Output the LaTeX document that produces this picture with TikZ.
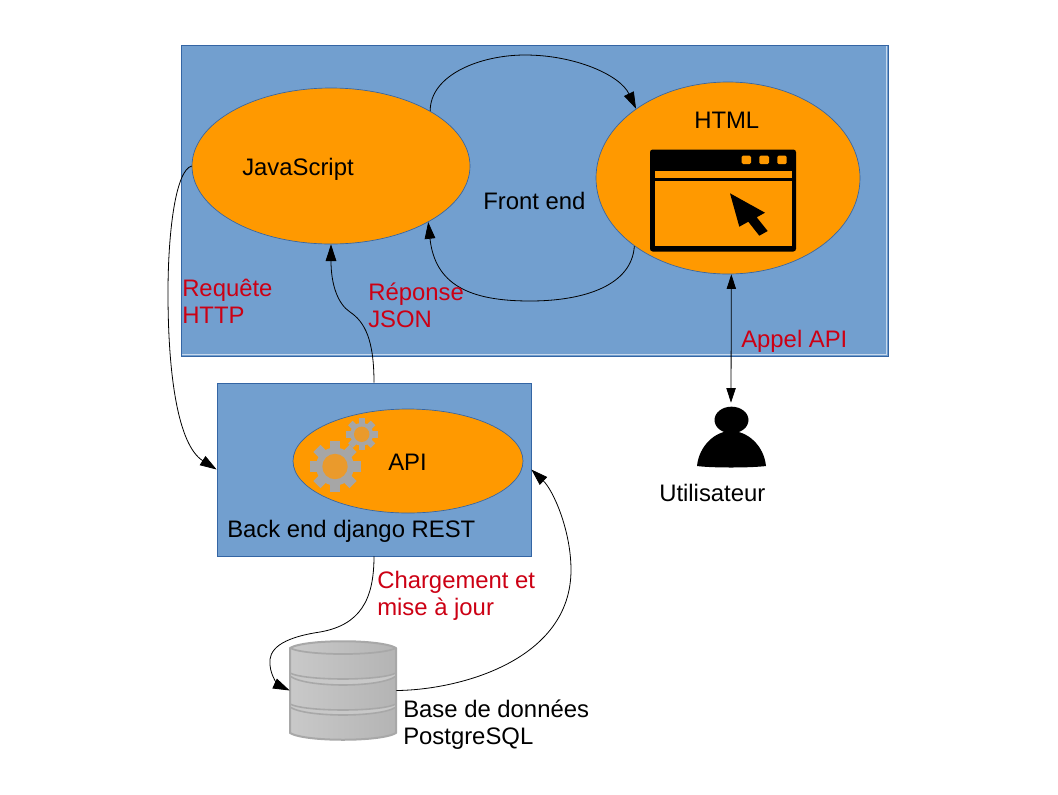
\documentclass[tikz,border=0pt]{standalone}
\usepackage{fontspec}
\setmainfont{Liberation Sans}
\usetikzlibrary{arrows.meta,shapes.geometric}
\definecolor{panelblue}{HTML}{729FCF}
\definecolor{paneledge}{HTML}{3465A4}
\definecolor{blobfill}{HTML}{FF9900}
\definecolor{labelred}{HTML}{CC0014}
\definecolor{geargray}{HTML}{A6A6A6}
\definecolor{gearhub}{HTML}{EA9A2C}
\definecolor{dbedge}{HTML}{A8A8A8}
\definecolor{dbleft}{HTML}{C9C9C9}
\definecolor{dbright}{HTML}{B4B4B4}
\definecolor{dbband}{HTML}{C8C8C8}
% pair of sagging seams between two discs: left y of upper seam, left y of lower seam
\newcommand{\dbseam}[4]{%
  \path[fill=dbband,draw=dbedge,line width=1.2pt,line join=round]
    (290,#1) .. controls (305,#1+#3*1.33) and (381,#1+#3*1.33) .. (396,#1) --
    (396,#2) .. controls (381,#2+#4*1.33) and (305,#2+#4*1.33) .. (290,#2) -- cycle;
}
\newcommand{\gearicon}[5]{% x y body hub tooth-out
  \foreach \a in {0,45,...,315}{
    \fill[geargray,rotate around={\a:(#1,#2)}] (#1-#5*0.2,#2) rectangle (#1+#5*0.2,#2-#5);
  }
  \fill[geargray] (#1,#2) circle[radius=#3*0.75pt];
  \fill[gearhub] (#1,#2) circle[radius=#4*0.75pt];
}
\tikzset{
  x=0.75pt,y=-0.75pt,
  panel/.style={draw=paneledge,line width=0.55pt,fill=panelblue,rectangle,inner sep=0pt},
  blob/.style={draw=paneledge,line width=0.5pt,fill=blobfill,ellipse,inner sep=0pt},
  txt/.style={anchor=base west,inner sep=0pt,font=\fontsize{17.9}{20.25}\selectfont,align=left},
  redtxt/.style={txt,text=labelred},
  link/.style={line width=0.6pt,-{Triangle[length=12.5pt,width=8pt]}},
  both/.style={line width=0.6pt,{Triangle[length=11pt,width=7pt]}-{Triangle[length=11pt,width=7pt]}},
  holder/.style={inner sep=0pt,rectangle}
}
\begin{document}
\begin{tikzpicture}
\useasboundingbox (0,0) rectangle (1058,794);
\fill[white] (0,0) rectangle (1058,794);
\node[panel,minimum width=530.25pt,minimum height=233.25pt] (front) at (534.5,200.5) {};
\draw[white!60!panelblue,line width=0.5pt] (182,354.6) -- (886.6,354.6) -- (886.6,46);
\node[panel,minimum width=235.5pt,minimum height=129.75pt] (back) at (374,469.5) {};
\node[blob,minimum width=208.5pt,minimum height=117pt] (js) at (331,166) {};
\node[blob,minimum width=198pt,minimum height=144pt] (html) at (728,178) {};
\node[blob,minimum width=172.5pt,minimum height=78pt] (api) at (408,461) {};
\node[holder,minimum width=79.5pt,minimum height=74.25pt] (db) at (343,690.5) {};
\node[holder,minimum width=51pt,minimum height=48pt] (user) at (731,435) {};
% window icon
\fill[black,rounded corners=2pt] (650,149.5) rectangle (796,251.5);
\fill[blobfill] (655,171) rectangle (792,177.5);
\fill[blobfill] (655,181) rectangle (792,246);
\fill[blobfill,rounded corners=1pt] (741.7,155.7) rectangle (751,164);
\fill[blobfill,rounded corners=1pt] (759.3,155.7) rectangle (769,164);
\fill[blobfill,rounded corners=1pt] (777.3,155.7) rectangle (786.7,164);
\fill[black] (730,193.3) -- (765,212.7) -- (756.7,217.3) -- (767.7,231) -- (759.3,235.7) -- (748.3,221.7) -- (739.3,226.7) -- cycle;
% gears
\gearicon{335}{466.5}{19}{12.7}{25.5}
\gearicon{361.7}{434.3}{11.5}{7.7}{16}
% database
\path[left color=dbleft,right color=dbright,draw=dbedge,line width=1.5pt,line join=round]
  (290,648) .. controls (305,639) and (381,639) .. (396,648) -- (396,733)
  .. controls (381,742) and (305,742) .. (290,733) -- cycle;
\draw[dbedge,line width=1.3pt] (290,648) .. controls (305,656) and (381,656) .. (396,648);
\dbseam{673}{676}{6}{9}
\dbseam{704}{707}{6}{8}
% user
\fill[black] (731.5,420) ellipse[x radius=12.75pt,y radius=10pt];
\fill[black] (697,466) .. controls (699,446) and (715,431) .. (731,431) .. controls (748,431) and (764,446) .. (766,466) .. controls (750,468) and (712,468) .. (697,466) -- cycle;
% connectors
\draw[link] (js.29.7) .. controls (430,75) and (480,55) .. (525,55) .. controls (575,55) and (620,75) .. (html.143);
\draw[link] (html.216.6) .. controls (632,285) and (585,301) .. (530,301) .. controls (470,301) and (435,285) .. (js.-30.8);
\draw[link] (back.north) .. controls (374,340) and (365,322) .. (350,312) .. controls (338,304) and (331,285) .. (js.south);
\draw[link] (js.west) .. controls (176,170) and (168,230) .. (168,293) .. controls (168,375) and (178,445) .. (back.west);
\draw[link] (back.south) .. controls (374,600) and (360,625) .. (320,632) .. controls (280,638) and (268,650) .. (270,665) .. controls (271,678) and (280,686) .. (db.west);
\draw[link] (db.east) .. controls (460,690) and (571,660) .. (571,570) .. controls (571,530) and (553,490) .. (back.east);
\draw[both] (html.-88.7) -- (user.north);
% texts
\node[txt] (tjs) at (242,175) {JavaScript};
\node[txt] (thtml) at (694,128) {HTML};
\node[txt] (tfront) at (483,209) {Front end};
\node[txt] (tapi) at (388,470) {API};
\node[txt] (tback) at (227,537) {Back end django REST};
\node[txt] (tuser) at (659,501) {Utilisateur};
\node[txt] (tdb) at (403,744) {Base de données\\PostgreSQL};
\node[redtxt] (treq) at (182,323) {Requête\\HTTP};
\node[redtxt] (trep) at (368,327) {Réponse\\JSON};
\node[redtxt] (tappel) at (741,347) {Appel API};
\node[redtxt] (tcharge) at (377,615) {Chargement et\\mise à jour};
\end{tikzpicture}
\end{document}
